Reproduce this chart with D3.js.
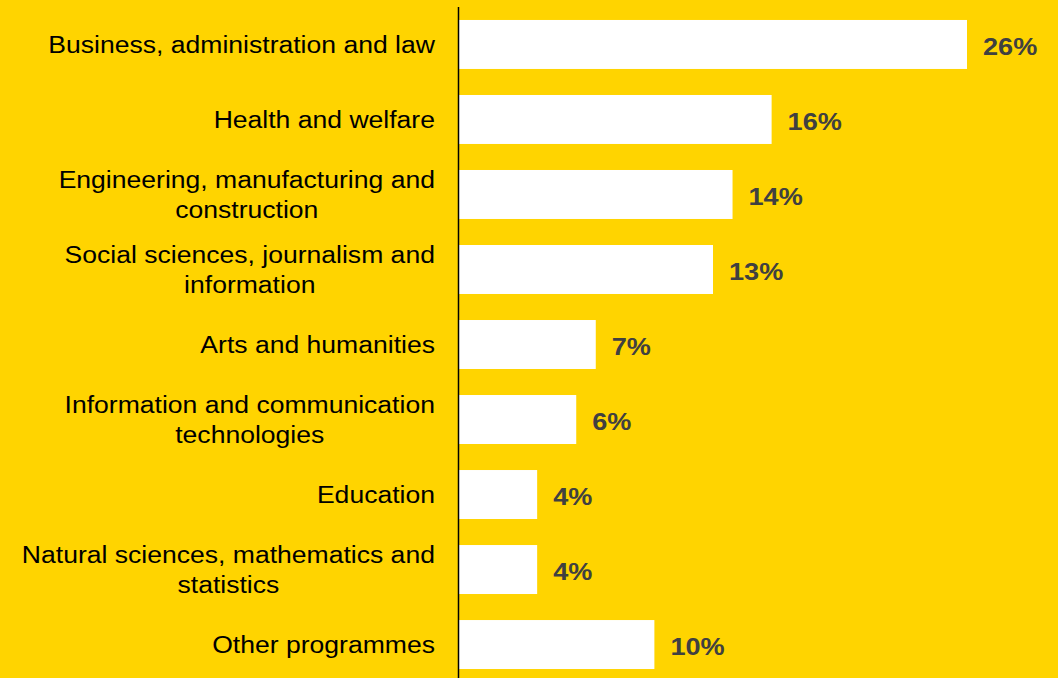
<!DOCTYPE html>
<html lang="en">

<head>
  <meta charset="UTF-8">
  <title>Field of study</title>
  <script src="https://cdnjs.cloudflare.com/ajax/libs/d3/7.8.5/d3.min.js"></script>
  <style>
    body {
      margin: 0;
      background: #FFD400;
    }

    .cat {
      font: 23.5px "Liberation Sans", Arial, sans-serif;
      fill: #000;
    }

    .val {
      font: bold 24px "Liberation Sans", Arial, sans-serif;
      fill: #404040;
    }
  </style>
</head>

<body>
  <div id="chart"></div>
  <script>
    const categories = [
      ["Business, administration and law"],
      ["Health and welfare"],
      ["Engineering, manufacturing and", "construction"],
      ["Social sciences, journalism and", "information"],
      ["Arts and humanities"],
      ["Information and communication", "technologies"],
      ["Education"],
      ["Natural sciences, mathematics and", "statistics"],
      ["Other programmes"]
    ];
    const values = [26, 16, 14, 13, 7, 6, 4, 4, 10];

    const width = 1058;
    const height = 678;
    const stretch = 1.13;  // text in the reference is a bit wide

    const svg = d3.select("#chart")
      .append("svg")
      .attr("width", width)
      .attr("height", height);

    svg.append("rect")
      .attr("width", width)
      .attr("height", height)
      .attr("fill", "#FFD400");

    const idx = d3.range(categories.length);

    const y = d3.scaleBand()
      .domain(idx)
      .range([7, 682])
      .paddingInner(0.347)
      .paddingOuter(0.173);

    const x = d3.scaleLinear()
      .domain([0, 26])
      .range([459, 967]);

    // bars
    svg.selectAll(".bar")
      .data(idx)
      .join("rect")
      .attr("class", "bar")
      .attr("x", x(0))
      .attr("y", i => y(i))
      .attr("width", i => x(values[i]) - x(0))
      .attr("height", y.bandwidth())
      .attr("fill", "#fff");

    // axis line
    svg.append("line")
      .attr("x1", x(0) - 0.5)
      .attr("x2", x(0) - 0.5)
      .attr("y1", 7)
      .attr("y2", height)
      .attr("stroke", "#000")
      .attr("stroke-width", 1.5);

    // value labels
    svg.selectAll(".val")
      .data(idx)
      .join("text")
      .attr("class", "val")
      .attr("transform", i => `translate(${x(values[i]) + 16},${y(i) + y.bandwidth() / 2 + 2}) scale(${stretch},1)`)
      .attr("dy", "0.35em")
      .text(i => values[i] + "%");

    // category labels, lines centred on each other, block right aligned
    const labelRight = 435;
    const lineH = 30;
    idx.forEach(i => {
      const lines = categories[i];
      const g = svg.append("g");
      const texts = lines.map((l, k) => g.append("text")
        .attr("class", "cat")
        .attr("text-anchor", "middle")
        .attr("dy", "0.35em")
        .text(l));
      const maxW = d3.max(texts, t => t.node().getComputedTextLength()) * stretch;
      const cx = labelRight - maxW / 2;
      const cy = y(i) + y.bandwidth() / 2;
      texts.forEach((t, k) => {
        const ly = cy + (k - (lines.length - 1) / 2) * lineH;
        t.attr("transform", `translate(${cx},${ly}) scale(${stretch},1)`);
      });
    });
  </script>
</body>

</html>
